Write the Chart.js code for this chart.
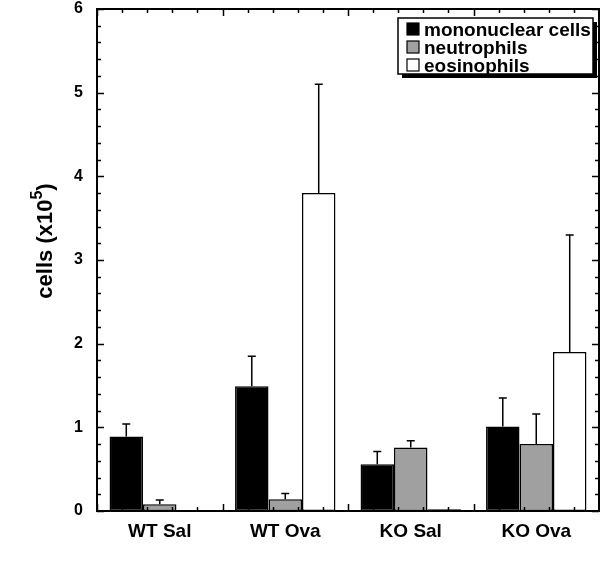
<!DOCTYPE html>
<html>
<head>
<meta charset="utf-8">
<script src="https://cdn.jsdelivr.net/npm/chart.js@4/dist/chart.umd.min.js"></script>
<style>
  body { margin: 0; background: #fff; }
  #wrap { width: 600px; height: 578px; }
</style>
</head>
<body>
<div id="wrap"><canvas id="chart"></canvas></div>
<script>
const groups = ['WT Sal', 'WT Ova', 'KO Sal', 'KO Ova'];
const seriesNames = ['mononuclear cells', 'neutrophils', 'eosinophils'];
const mononuclear = [0.89, 1.49, 0.56, 1.01];
const mononuclearErr = [0.15, 0.36, 0.15, 0.34];
const neutrophils = [0.08, 0.14, 0.76, 0.80];
const neutrophilsErr = [0.05, 0.07, 0.08, 0.36];
const eosinophils = [0, 3.8, 0.02, 1.9];
const eosinophilsErr = [0, 1.3, 0, 1.4];
const yTicks = [0, 1, 2, 3, 4, 5, 6];

const FONT = '"Liberation Sans", Arial, Helvetica, sans-serif';

// frame, inward ticks, error bars, legend, y title
const decorations = {
  id: 'decorations',
  afterDatasetsDraw(chart) {
    const ctx = chart.ctx;
    const { left, right, top, bottom } = chart.chartArea;
    const x = chart.scales.x, y = chart.scales.y;
    ctx.save();

    // error bars
    ctx.strokeStyle = '#000';
    ctx.lineWidth = 1.5;
    chart.data.datasets.forEach((ds, di) => {
      const meta = chart.getDatasetMeta(di);
      meta.data.forEach((bar, i) => {
        const e = ds.errors[i];
        if (!e) return;
        const y0 = y.getPixelForValue(ds.data[i]);
        const y1 = y.getPixelForValue(ds.data[i] + e);
        ctx.beginPath();
        ctx.moveTo(bar.x, y0);
        ctx.lineTo(bar.x, y1);
        ctx.moveTo(bar.x - 4, y1);
        ctx.lineTo(bar.x + 4, y1);
        ctx.stroke();
      });
    });

    // frame
    ctx.lineWidth = 2;
    ctx.strokeRect(left, top, right - left, bottom - top);

    // y ticks (both sides, inward)
    ctx.lineWidth = 1.5;
    for (let k = 0; k <= 30; k++) {
      const v = k * 0.2;
      const py = Math.round(y.getPixelForValue(v)) + 0.5;
      const len = k % 5 === 0 ? 7 : 4;
      ctx.beginPath();
      ctx.moveTo(left, py); ctx.lineTo(left + len, py);
      ctx.moveTo(right, py); ctx.lineTo(right - len, py);
      ctx.stroke();
    }
    // x ticks (top and bottom, inward)
    const step = (x.getPixelForValue(1) - x.getPixelForValue(0)) / 5;
    const start = x.getPixelForValue(0) - step * 2.5;
    for (let k = 0; k <= groups.length * 5; k++) {
      const px = Math.round(start + k * step) + 0.5;
      const len = k % 5 === 0 ? 7 : 4;
      ctx.beginPath();
      ctx.moveTo(px, bottom); ctx.lineTo(px, bottom - len);
      ctx.moveTo(px, top); ctx.lineTo(px, top + len);
      ctx.stroke();
    }

    // legend box with shadow
    const lx = 398, ly = 18, lw = 195, lh = 56;
    ctx.fillStyle = '#000';
    ctx.fillRect(lx + 4, ly + 4, lw, lh);
    ctx.fillStyle = '#fff';
    ctx.fillRect(lx, ly, lw, lh);
    ctx.lineWidth = 1.5;
    ctx.strokeRect(lx, ly, lw, lh);
    ctx.font = 'bold 19px ' + FONT;
    ctx.textBaseline = 'alphabetic';
    ctx.textAlign = 'left';
    chart.data.datasets.forEach((ds, di) => {
      const sy = 23 + di * 18;
      ctx.fillStyle = ds.backgroundColor;
      ctx.fillRect(407, sy, 12, 12);
      ctx.strokeStyle = '#000';
      ctx.lineWidth = 1.2;
      ctx.strokeRect(407, sy, 12, 12);
      ctx.fillStyle = '#000';
      ctx.fillText(ds.label, 424, sy + 13);
    });

    // y axis title with superscript
    ctx.translate(52, 241);
    ctx.rotate(-Math.PI / 2);
    ctx.fillStyle = '#000';
    const main = 'cells (x10';
    ctx.font = 'bold 22px ' + FONT;
    const w1 = ctx.measureText(main).width;
    ctx.font = 'bold 16px ' + FONT;
    const w2 = ctx.measureText('5').width;
    ctx.font = 'bold 22px ' + FONT;
    const w3 = ctx.measureText(')').width;
    let cx = -(w1 + w2 + w3) / 2;
    ctx.fillText(main, cx, 0);
    cx += w1;
    ctx.font = 'bold 16px ' + FONT;
    ctx.fillText('5', cx, -10);
    cx += w2;
    ctx.font = 'bold 22px ' + FONT;
    ctx.fillText(')', cx, 0);
    ctx.restore();
  }
};

new Chart(document.getElementById('chart'), {
  type: 'bar',
  data: {
    labels: groups,
    datasets: [
      { label: seriesNames[0], data: mononuclear, errors: mononuclearErr, backgroundColor: '#000000' },
      { label: seriesNames[1], data: neutrophils, errors: neutrophilsErr, backgroundColor: '#a0a0a0' },
      { label: seriesNames[2], data: eosinophils, errors: eosinophilsErr, backgroundColor: '#ffffff' }
    ].map(d => Object.assign(d, { borderColor: '#000', borderWidth: 1.5, borderSkipped: false,
      categoryPercentage: 0.8, barPercentage: 1.0 }))
  },
  options: {
    responsive: true,
    maintainAspectRatio: false,
    animation: false,
    layout: { padding: { top: 9, right: 1, left: 0, bottom: 0 } },
    plugins: { legend: { display: false }, tooltip: { enabled: false } },
    scales: {
      x: {
        grid: { display: false, drawTicks: false },
        border: { display: false },
        ticks: { color: '#000', padding: 9, font: { family: FONT, size: 19, weight: 'bold' } },
        afterFit: s => { s.height = 67; s.paddingLeft = 0; s.paddingRight = 0; }
      },
      y: {
        min: 0, max: 6,
        grid: { display: false, drawTicks: false },
        border: { display: false },
        afterBuildTicks: s => { s.ticks = yTicks.map(v => ({ value: v })); },
        ticks: { color: '#000', padding: 14, font: { family: FONT, size: 16, weight: 'bold' } },
        afterFit: s => { s.width = 97; s.paddingTop = 0; s.paddingBottom = 0; }
      }
    }
  },
  plugins: [decorations]
});
</script>
</body>
</html>
